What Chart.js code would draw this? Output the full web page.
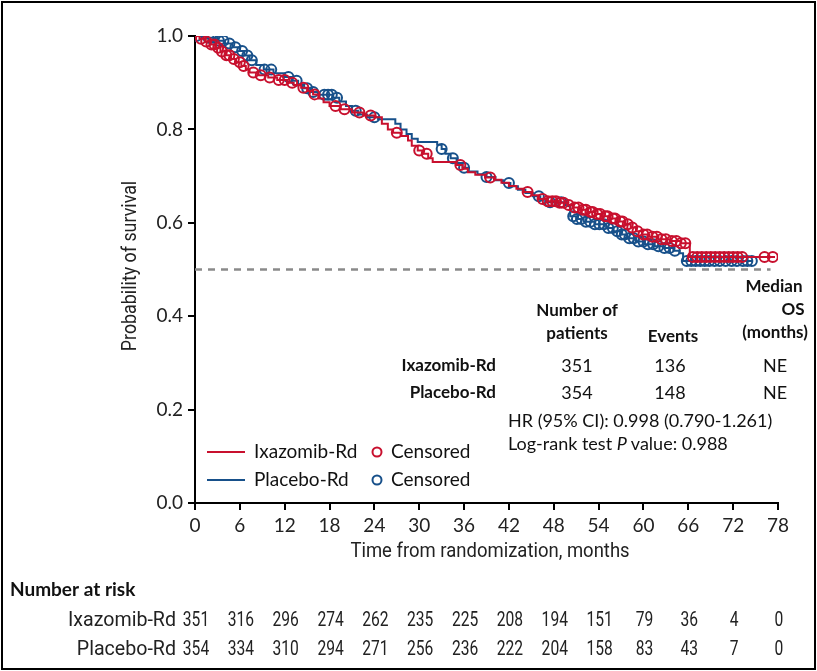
<!DOCTYPE html>
<html>
<head>
<meta charset="utf-8">
<script src="https://cdn.jsdelivr.net/npm/chart.js@4"></script>
<style>
  html, body { margin: 0; padding: 0; background: #fff; }
  #wrap { width: 817px; height: 671px; }
</style>
</head>
<body>
<div id="wrap"><canvas id="chart" width="817" height="671"></canvas></div>
<script>
// Kaplan-Meier steps (months, probability)
const ixaTimes = [0, 0.6, 1.3, 2.0, 2.7, 3.4, 4.1, 4.8, 5.5, 6.2, 6.8, 7.3, 8.5, 9.8, 11.0, 12.3, 13.2, 14.2, 15.0, 15.8, 16.5, 17.2, 18.0, 19.5, 21.0, 22.5, 24.0, 25.0, 25.8, 26.5, 27.5, 28.5, 29.0, 29.8, 30.5, 31.2, 31.8, 35.0, 35.8, 36.5, 37.5, 38.8, 40.0, 41.0, 42.0, 43.0, 44.0, 45.0, 46.0, 47.0, 48.5, 49.8, 50.5, 51.5, 52.5, 53.5, 54.5, 55.5, 56.5, 57.5, 58.3, 59.0, 59.8, 60.8, 62.0, 63.5, 65.0, 66.2, 77.6];
const ixaSurv = [1, 0.994, 0.988, 0.982, 0.975, 0.967, 0.959, 0.951, 0.944, 0.936, 0.928, 0.922, 0.916, 0.911, 0.906, 0.900, 0.895, 0.889, 0.882, 0.875, 0.866, 0.858, 0.850, 0.843, 0.836, 0.830, 0.826, 0.812, 0.800, 0.793, 0.786, 0.776, 0.765, 0.755, 0.748, 0.738, 0.730, 0.724, 0.716, 0.708, 0.703, 0.697, 0.692, 0.686, 0.679, 0.673, 0.666, 0.659, 0.651, 0.646, 0.643, 0.638, 0.633, 0.628, 0.623, 0.619, 0.614, 0.609, 0.603, 0.597, 0.590, 0.582, 0.575, 0.570, 0.565, 0.561, 0.556, 0.527, 0.527];

const plaTimes = [0, 1.5, 2.8, 4.0, 5.0, 6.0, 6.6, 7.3, 8.2, 9.2, 10.5, 12.0, 13.0, 13.8, 14.6, 15.5, 16.5, 18.5, 19.3, 20.2, 21.0, 21.8, 23.0, 24.5, 26.8, 27.5, 28.3, 29.0, 29.8, 32.4, 33.0, 33.5, 34.2, 35.0, 35.8, 36.6, 37.8, 39.0, 40.2, 41.2, 42.2, 43.2, 44.2, 45.2, 46.2, 47.2, 49.8, 50.2, 51.0, 52.0, 53.5, 55.0, 56.0, 57.0, 57.8, 59.0, 60.2, 61.5, 62.6, 64.0, 64.8, 65.3, 74.6];
const plaSurv = [1, 0.996, 0.990, 0.984, 0.976, 0.968, 0.958, 0.948, 0.938, 0.928, 0.920, 0.912, 0.904, 0.896, 0.888, 0.880, 0.874, 0.868, 0.860, 0.850, 0.840, 0.832, 0.826, 0.822, 0.812, 0.800, 0.790, 0.780, 0.773, 0.767, 0.758, 0.748, 0.738, 0.728, 0.718, 0.710, 0.704, 0.698, 0.691, 0.685, 0.678, 0.671, 0.664, 0.657, 0.650, 0.644, 0.636, 0.614, 0.608, 0.602, 0.597, 0.589, 0.582, 0.575, 0.567, 0.560, 0.554, 0.550, 0.546, 0.540, 0.535, 0.518, 0.518];

// censoring times (months)
const ixaCensored = [0.8, 1.5, 2.2, 2.6, 3.1, 3.6, 4.2, 4.6, 5.2, 6.0, 6.5, 7.8, 8.8, 10.0, 11.2, 12.0, 13.0, 14.5, 16.0, 18.8, 20.0, 22.0, 23.5, 27.0, 30.0, 31.0, 35.5, 39.5, 44.5, 46.5, 47.2, 47.8, 48.3, 48.8, 49.3, 50.0, 50.8, 51.3, 51.9, 52.3, 52.9, 53.2, 53.8, 54.2, 54.9, 55.2, 55.9, 56.2, 56.9, 57.2, 57.9, 58.5, 59.2, 60.0, 60.5, 61.2, 61.8, 62.4, 63.0, 63.8, 64.4, 65.0, 65.6, 66.6, 67.2, 67.8, 68.4, 69.0, 69.6, 70.2, 70.8, 71.4, 72.0, 72.6, 73.2, 76.2, 77.3];
const plaCensored = [0.2, 1.8, 2.4, 3.2, 3.8, 4.6, 5.4, 6.3, 7.0, 7.6, 9.3, 10.2, 12.5, 13.6, 15.0, 15.8, 17.3, 17.8, 18.3, 19.0, 21.5, 24.0, 33.0, 34.5, 36.0, 39.0, 42.0, 46.0, 47.5, 49.0, 50.6, 51.1, 51.7, 52.3, 52.9, 53.5, 54.1, 54.7, 55.3, 55.9, 56.5, 57.1, 57.5, 58.1, 58.7, 59.3, 60.0, 60.6, 61.3, 62.0, 62.8, 63.5, 64.2, 65.8, 66.4, 67.0, 67.6, 68.2, 68.8, 69.5, 70.2, 71.0, 71.8, 72.5, 73.3, 73.9, 74.5];

const xTicks = [0, 6, 12, 18, 24, 30, 36, 42, 48, 54, 60, 66, 72, 78];
const yTicks = [0, 0.2, 0.4, 0.6, 0.8, 1.0];
const medianLine = [0, 77];

const riskIxa = [351, 316, 296, 274, 262, 235, 225, 208, 194, 151, 79, 36, 4, 0];
const riskPla = [354, 334, 310, 294, 271, 256, 236, 222, 204, 158, 83, 43, 7, 0];

const groups = ["Ixazomib-Rd", "Placebo-Rd"];
const patients = [351, 354];
const events = [136, 148];
const medianOS = ["NE", "NE"];

const RED = "#c8102e";
const BLUE = "#17508a";
const FONT = "Lato, 'Noto Sans', sans-serif";
const NARROW = "Roboto, 'Noto Sans', sans-serif";

const toPoints = (times, surv) => times.map((t, i) => ({ x: t, y: surv[i] }));

// survival value on the step curve at time t
function survAt(times, surv, t) {
  let s = surv[0];
  for (let i = 0; i < times.length; i++) {
    if (times[i] <= t) s = surv[i];
  }
  return s;
}

const extras = {
  id: "extras",
  beforeDraw(chart) {
    const ctx = chart.ctx;
    ctx.save();
    ctx.fillStyle = "#fff";
    ctx.fillRect(0, 0, chart.width, chart.height);
    ctx.restore();
  },
  afterDraw(chart) {
    const ctx = chart.ctx;
    const xs = chart.scales.x;
    ctx.save();

    // frame
    ctx.strokeStyle = "#000";
    ctx.lineWidth = 2;
    ctx.strokeRect(2, 2, 813, 667);

    const text = (str, x, y, align, font, color) => {
      ctx.font = font;
      ctx.fillStyle = color || "#111";
      ctx.textAlign = align;
      ctx.textBaseline = "middle";
      ctx.fillText(str, x, y);
    };
    // condensed text: squeezed horizontally
    const narrow = (str, x, y, align, font, sx, rot) => {
      ctx.save();
      ctx.font = font;
      ctx.fillStyle = "#222";
      ctx.textAlign = align;
      ctx.textBaseline = "middle";
      ctx.translate(x, y);
      if (rot) ctx.rotate(rot);
      ctx.scale(sx, 1);
      ctx.fillText(str, 0, 0);
      ctx.restore();
    };

    // axis titles
    narrow("Time from randomization, months", 490, 552, "center", "21px " + NARROW, 0.88);
    narrow("Probability of survival", 131, 266, "center", "21px " + NARROW, 0.85, -Math.PI / 2);

    // legend
    const legendRows = [
      { label: groups[0], color: RED, y: 452 },
      { label: groups[1], color: BLUE, y: 480 },
    ];
    legendRows.forEach((r) => {
      ctx.strokeStyle = r.color;
      ctx.lineWidth = 2;
      ctx.beginPath();
      ctx.moveTo(207, r.y);
      ctx.lineTo(245, r.y);
      ctx.stroke();
      text(r.label, 254, r.y, "left", "19px " + FONT);
      ctx.beginPath();
      ctx.arc(377, r.y, 4.5, 0, Math.PI * 2);
      ctx.lineWidth = 2;
      ctx.stroke();
      text("Censored", 391, r.y, "left", "19px " + FONT);
    });

    // summary table
    const bold = "bold 17px " + FONT;
    const reg = "18px " + FONT;
    text("Number of", 577, 311, "center", bold);
    text("patients", 577, 334, "center", bold);
    text("Events", 673, 337, "center", bold);
    text("Median", 774, 287, "center", bold);
    text("OS", 793, 310, "center", bold);
    text("(months)", 775, 333, "center", bold);
    const rowY = [366, 393];
    groups.forEach((g, i) => {
      text(g, 496, rowY[i], "right", bold);
      text(String(patients[i]), 577, rowY[i], "center", reg);
      text(String(events[i]), 670, rowY[i], "center", reg);
      text(medianOS[i], 775, rowY[i], "center", reg);
    });
    text("HR (95% CI): 0.998 (0.790-1.261)", 508, 421, "left", reg);
    ctx.font = reg;
    const pre = "Log-rank test ";
    text(pre, 508, 444, "left", reg);
    let px = 508 + ctx.measureText(pre).width;
    text("P", px, 444, "left", "italic 18px " + FONT);
    px += ctx.measureText("P").width + 4;
    text("value: 0.988", px, 444, "left", reg);

    // number at risk
    text("Number at risk", 10, 590, "left", "bold 19px " + FONT);
    const riskRows = [
      { label: groups[0], vals: riskIxa, y: 621 },
      { label: groups[1], vals: riskPla, y: 650 },
    ];
    riskRows.forEach((r) => {
      narrow(r.label, 176, r.y, "right", "20px " + NARROW, 0.98);
      r.vals.forEach((v, i) => {
        narrow(String(v), xs.getPixelForValue(xTicks[i]) + 1, r.y, "center", "20px " + NARROW, 0.78);
      });
    });
    ctx.restore();
  },
};

function generateChart() {
  new Chart(document.getElementById("chart"), {
    type: "scatter",
    data: {
      datasets: [
        {
          label: "Median",
          data: medianLine.map((t) => ({ x: t, y: 0.5 })),
          showLine: true,
          borderColor: "#8a8a8a",
          borderWidth: 2.5,
          borderDash: [7, 6],
          pointRadius: 0,
          order: 5,
        },
        {
          label: "Placebo-Rd",
          data: toPoints(plaTimes, plaSurv),
          showLine: true,
          stepped: true,
          borderColor: BLUE,
          borderWidth: 2,
          pointRadius: 0,
          order: 4,
        },
        {
          label: "Placebo-Rd censored",
          data: plaCensored.map((t) => ({ x: t, y: survAt(plaTimes, plaSurv, t) })),
          showLine: false,
          pointStyle: "circle",
          pointRadius: 5,
          pointBorderWidth: 2,
          pointBorderColor: BLUE,
          pointBackgroundColor: "rgba(0,0,0,0)",
          order: 3,
        },
        {
          label: "Ixazomib-Rd",
          data: toPoints(ixaTimes, ixaSurv),
          showLine: true,
          stepped: true,
          borderColor: RED,
          borderWidth: 2,
          pointRadius: 0,
          order: 2,
        },
        {
          label: "Ixazomib-Rd censored",
          data: ixaCensored.map((t) => ({ x: t, y: survAt(ixaTimes, ixaSurv, t) })),
          showLine: false,
          pointStyle: "circle",
          pointRadius: 5,
          pointBorderWidth: 2,
          pointBorderColor: RED,
          pointBackgroundColor: "rgba(0,0,0,0)",
          order: 1,
        },
      ],
    },
    options: {
      responsive: false,
      animation: false,
      events: [],
      layout: { padding: { top: 36, right: 39, left: 0, bottom: 0 } },
      plugins: { legend: { display: false }, tooltip: { enabled: false } },
      scales: {
        x: {
          type: "linear",
          min: 0,
          max: 78,
          afterBuildTicks: (s) => { s.ticks = xTicks.map((v) => ({ value: v })); },
          afterFit: (s) => { s.height = 168; },
          grid: { drawOnChartArea: false, drawTicks: true, tickLength: 7, color: "#000", lineWidth: 2 },
          border: { display: true, color: "#000", width: 2 },
          ticks: { color: "#222", font: { family: FONT, size: 19 }, padding: 4, maxRotation: 0 },
        },
        y: {
          min: 0,
          max: 1,
          afterBuildTicks: (s) => { s.ticks = yTicks.map((v) => ({ value: v })); },
          afterFit: (s) => { s.width = 195; },
          grid: { drawOnChartArea: false, drawTicks: true, tickLength: 7, color: "#000", lineWidth: 2 },
          border: { display: true, color: "#000", width: 2 },
          ticks: { color: "#222", font: { family: FONT, size: 19 }, padding: 5, callback: (v) => v.toFixed(1) },
        },
      },
    },
    plugins: [extras],
  });
}
generateChart();
</script>
</body>
</html>
